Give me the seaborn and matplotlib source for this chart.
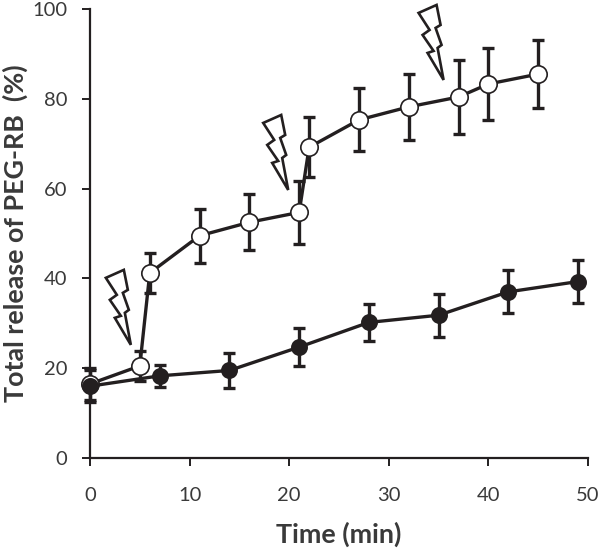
import matplotlib
matplotlib.use("Agg")
import matplotlib.pyplot as plt
import matplotlib.transforms as mtrans
from matplotlib.patches import Polygon
import pandas as pd
import seaborn as sns

open_time = [0, 5, 6, 11, 16, 21, 22, 27, 32, 37, 40, 45]
open_release = [16.5, 20.5, 41.2, 49.5, 52.5, 54.7, 69.2, 75.3, 78.2, 80.4, 83.3, 85.5]
open_err = [3.5, 3.3, 4.5, 6.0, 6.2, 7.0, 6.7, 7.0, 7.4, 8.2, 8.0, 7.6]
filled_time = [0, 7, 14, 21, 28, 35, 42, 49]
filled_release = [16.0, 18.3, 19.5, 24.7, 30.2, 31.8, 37.0, 39.3]
filled_err = [3.5, 2.5, 3.8, 4.3, 4.2, 4.8, 4.8, 4.8]
bolt_time = [4.1, 19.9, 35.5]
bolt_release = [25.2, 59.7, 84.2]
# lightning outline, in pixels relative to its tip (y up)
bolt_shape = [(-25, 67), (-7, 75), (-3, 55), (-8, 52), (-2, 35), (-6, 32), (0, 0),
              (-16, 27), (-10, 29), (-21, 45), (-14, 50)]
INK = "#231f20"
TICK_TEXT = "#3a3a3a"

sns.set_theme(style="ticks")
plt.rcParams["font.family"] = ["Lato", "DejaVu Sans"]

fig = plt.figure(figsize=(6, 5.5), dpi=100)
ax = fig.add_axes([90 / 600, 1 - 458 / 550, 498 / 600, 449 / 550])
ax.set_xlim(0, 50)
ax.set_ylim(0, 100)

frames = [("open", open_time, open_release, open_err, "white", 12.5),
          ("filled", filled_time, filled_release, filled_err, INK, 11)]
for name, t, r, e, face, msize in frames:
    ax.errorbar(t, r, yerr=e, fmt="none", ecolor=INK, elinewidth=2.4,
                capsize=4.2, capthick=2.4, clip_on=False, zorder=2)
    sns.lineplot(data=pd.DataFrame({"t": t, "r": r}), x="t", y="r", ax=ax,
                 color=INK, linewidth=2.4, marker="o", markersize=msize,
                 markerfacecolor=face, markeredgecolor=INK, markeredgewidth=1.2,
                 clip_on=False, zorder=3, estimator=None, sort=False)

for bx, by in zip(bolt_time, bolt_release):
    tip = ax.transData.transform((bx, by))
    ax.add_patch(Polygon(bolt_shape, closed=True, facecolor="white", edgecolor=INK,
                         linewidth=1.9, joinstyle="miter", clip_on=False, zorder=4,
                         transform=mtrans.Affine2D().translate(*tip)))

ax.set_xlim(0, 50)
ax.set_ylim(0, 100)
ax.set_xticks(range(0, 51, 10))
ax.set_yticks(range(0, 101, 20))
ax.tick_params(axis="both", length=5.8, width=1.4, color=INK, labelcolor=TICK_TEXT,
               labelsize=14.5)
ax.tick_params(axis="x", pad=15)
ax.tick_params(axis="y", pad=10.5)
for s in ("left", "bottom"):
    ax.spines[s].set_linewidth(1.6)
    ax.spines[s].set_color(INK)
sns.despine(ax=ax)
ax.set_xlabel("Time (min)", fontsize=19.4, fontweight="bold", color=TICK_TEXT, labelpad=13)
ax.set_ylabel("Total release of PEG-RB  (%)", fontsize=19.4, fontweight="bold", color=TICK_TEXT, labelpad=3)
fig.savefig("out.png", dpi=100)
